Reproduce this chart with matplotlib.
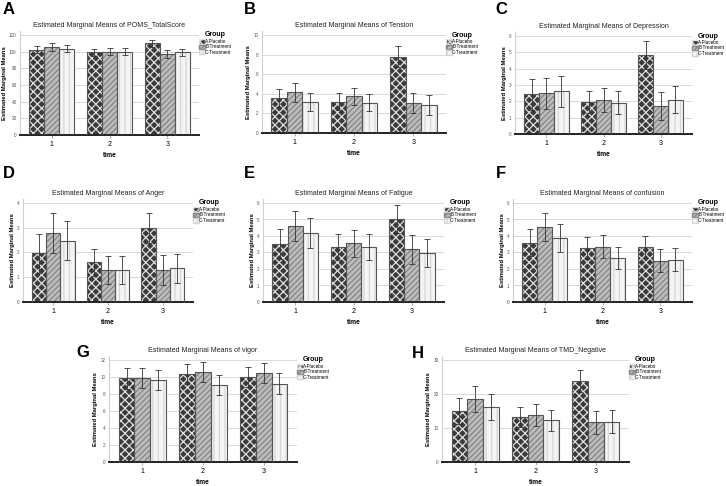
import numpy as np
import matplotlib
matplotlib.use("Agg")
import matplotlib.pyplot as plt
from matplotlib.patches import Patch

plt.rcParams["font.family"] = ["Liberation Sans", "DejaVu Sans"]
plt.rcParams["hatch.linewidth"] = 0.9

times = ["1", "2", "3"]
groups = ["A-Placebo", "B-Treatment", "C-Treatment"]

# means per group (A, B, C) at time 1,2,3 and their error half-widths
total_mean = [[102, 99, 110], [105.5, 100, 97], [103.5, 100, 99]]
total_err = [[4.2, 4.0, 4.3], [4.6, 4.0, 4.4], [4.4, 4.0, 4.3]]
tension_mean = [[3.55, 3.2, 7.8], [4.15, 3.75, 3.05], [3.15, 3.1, 2.85]]
tension_err = [[0.9, 0.85, 1.05], [0.95, 0.87, 1.05], [0.9, 0.87, 1.0]]
depress_mean = [[2.42, 1.97, 4.84], [2.5, 2.08, 1.71], [2.62, 1.92, 2.11]]
depress_err = [[0.93, 0.68, 0.83], [0.95, 0.72, 0.86], [0.95, 0.72, 0.82]]
anger_mean = [[1.96, 1.61, 3.0], [2.78, 1.3, 1.3], [2.48, 1.29, 1.36]]
anger_err = [[0.78, 0.55, 0.6], [0.81, 0.56, 0.61], [0.79, 0.55, 0.59]]
fatigue_mean = [[3.5, 3.35, 5.02], [4.58, 3.56, 3.19], [4.17, 3.34, 2.95]]
fatigue_err = [[0.9, 0.8, 0.85], [0.91, 0.83, 0.86], [0.9, 0.81, 0.85]]
confus_mean = [[3.6, 3.26, 3.33], [4.55, 3.34, 2.5], [3.88, 2.67, 2.57]]
confus_err = [[0.83, 0.66, 0.68], [0.85, 0.7, 0.7], [0.85, 0.68, 0.7]]
vigor_mean = [[9.83, 10.33, 10.0], [9.9, 10.57, 10.46], [9.65, 9.1, 9.2]]
vigor_err = [[1.2, 1.15, 1.2], [1.18, 1.15, 1.2], [1.16, 1.16, 1.25]]
tmd_mean = [[15.0, 13.3, 23.9], [18.6, 13.9, 11.7], [16.3, 12.3, 11.8]]
tmd_err = [[3.8, 2.95, 3.3], [3.9, 3.2, 3.4], [3.8, 3.1, 3.4]]

# (letter, title, means, errs, ymax, ystep, letter xy px, axes left/right/zero/top-tick px)
panels = [
    ("A", "POMS_TotalScore", total_mean, total_err, 120, 20, (3, 2), (20, 199, 135, 35)),
    ("B", "Tension", tension_mean, tension_err, 10, 2, (244, 2), (262, 446, 133, 35)),
    ("C", "Depression", depress_mean, depress_err, 6, 1, (495, 2), (515, 692, 134, 36)),
    ("D", "Anger", anger_mean, anger_err, 4, 1, (3, 166), (23, 193, 302, 203)),
    ("E", "Fatigue", fatigue_mean, fatigue_err, 6, 1, (244, 166), (263, 444, 302, 203)),
    ("F", "confusion", confus_mean, confus_err, 6, 1, (496, 166), (513, 692, 302, 203)),
    ("G", "vigor", vigor_mean, vigor_err, 12, 2, (76, 345), (109, 297, 462, 360)),
    ("H", "TMD_Negative", tmd_mean, tmd_err, 30, 10, (412, 346), (442, 629, 462, 360)),
]

styles = [
    dict(face="#3a3a3a", hatch="xxxx", hcol="#e0e0e0"),
    dict(face="#bdbdbd", hatch="//////", hcol="#858585"),
    dict(face="#f4f4f4", hatch="|||", hcol="#d6d6d6"),
]

W, H = 726, 486
fig = plt.figure(figsize=(W / 100, H / 100), dpi=100)

x = np.arange(len(times))
bw = 0.26
pad = 0.04

for letter, name, means, errs, ymax, ystep, (lx, ly), (l, r, y0, yt) in panels:
    h_tick = y0 - yt
    top = yt - pad * h_tick
    ax = fig.add_axes([l / W, 1 - y0 / H, (r - l) / W, (y0 - top) / H])
    for i, st in enumerate(styles):
        pos = x + (i - 1) * bw
        ax.bar(pos, means[i], bw, color=st["face"], hatch=st["hatch"],
               edgecolor=st["hcol"], linewidth=0, zorder=2)
        ax.bar(pos, means[i], bw, fill=False, edgecolor="#555555",
               linewidth=0.8, zorder=3)
        ax.errorbar(pos, means[i], yerr=errs[i], fmt="none", ecolor="#333333",
                    elinewidth=0.6, capsize=2, capthick=0.6, zorder=4)
    ax.set_xlim(-0.55, 2.55)
    ax.set_ylim(0, ymax * (1 + pad))
    ax.set_yticks(np.arange(0, ymax + ystep / 2, ystep))
    ax.set_xticks(x)
    ax.set_xticklabels(times)
    ax.grid(axis="y", color="#d9d9d9", linewidth=0.7, zorder=0)
    ax.set_axisbelow(True)
    for s in ["top", "right"]:
        ax.spines[s].set_visible(False)
    ax.spines["left"].set_color("#cfcfcf")
    ax.spines["left"].set_linewidth(0.8)
    ax.spines["bottom"].set_color("#222222")
    ax.spines["bottom"].set_linewidth(1.4)
    ax.tick_params(axis="y", labelsize=3.3, length=0, pad=2.5, colors="#555555")
    ax.tick_params(axis="x", labelsize=5, length=2, width=0.5, color="#888888", pad=2)
    ax.set_title("Estimated Marginal Means of " + name, fontsize=5, pad=3,
                 color="#222222")
    ax.set_xlabel("time", fontsize=4.8, fontweight="bold", labelpad=3)
    ax.set_ylabel("Estimated Marginal Means", fontsize=4.2, fontweight="bold",
                  labelpad=1.5)
    handles = [Patch(facecolor=st["face"], hatch=st["hatch"], edgecolor=st["hcol"])
               for st in styles]
    ax.legend(handles, groups, title="Group", loc="upper left",
              bbox_to_anchor=(1.0, 1.0), frameon=False, fontsize=3.3,
              title_fontproperties={"size": 5, "weight": "bold"},
              handlelength=1.1, handleheight=1.1, handletextpad=0.15,
              labelspacing=0.1, borderaxespad=0.0, borderpad=0.1)
    fig.text(lx / W, 1 - ly / H, letter, fontsize=12, fontweight="bold",
             va="top", ha="left")

fig.savefig("out.png", dpi=100)
